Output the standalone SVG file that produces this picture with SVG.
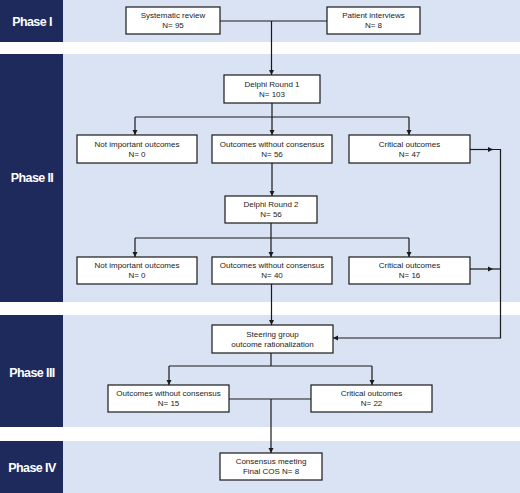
<svg xmlns="http://www.w3.org/2000/svg" width="520" height="493" viewBox="0 0 520 493">
<style>
.band{fill:#DAE3F3}
.side{fill:#1F2A5C}
.ph{font-family:"Liberation Sans",Arial,sans-serif;font-weight:bold;font-size:12.5px;fill:#fff;text-anchor:middle;letter-spacing:-0.6px}
.box{fill:#fff;stroke:#1a1a1a;stroke-width:1.2}
.t{font-family:"Liberation Sans",Arial,sans-serif;font-size:8px;fill:#222;text-anchor:middle}
.c{fill:none;stroke:#1a1a1a;stroke-width:1.2}
</style>
<defs>
<marker id="ah" markerUnits="userSpaceOnUse" markerWidth="6" markerHeight="6" refX="5" refY="3" orient="auto">
<path d="M0,0.5 L5,3 L0,5.5 z" fill="#1a1a1a"/>
</marker>
</defs>
<g id="bands">
<rect class="band" x="63" y="0" width="457" height="42"/>
<rect class="side" x="0" y="0" width="63" height="42"/>
<rect class="band" x="63" y="54" width="457" height="248"/>
<rect class="side" x="0" y="54" width="63" height="248"/>
<rect class="band" x="63" y="315" width="457" height="112"/>
<rect class="side" x="0" y="315" width="63" height="112"/>
<rect class="band" x="63" y="441" width="457" height="52"/>
<rect class="side" x="0" y="441" width="63" height="52"/>
<text class="ph" x="32" y="25.5">Phase I</text>
<text class="ph" x="32" y="181.5">Phase II</text>
<text class="ph" x="32" y="376.5">Phase III</text>
<text class="ph" x="32" y="471.5">Phase IV</text>
</g>
<g id="connectors">
<path class="c" d="M220,21 H327"/>
<path class="c" d="M271.5,21 V75" marker-end="url(#ah)"/>
<path class="c" d="M272,103 V117"/>
<path class="c" d="M135,117 H409"/>
<path class="c" d="M135,117 V135" marker-end="url(#ah)"/>
<path class="c" d="M272,117 V135" marker-end="url(#ah)"/>
<path class="c" d="M409,117 V135" marker-end="url(#ah)"/>
<path class="c" d="M272,163 V196" marker-end="url(#ah)"/>
<path class="c" d="M271,223 V238"/>
<path class="c" d="M135,238 H409"/>
<path class="c" d="M135,238 V257" marker-end="url(#ah)"/>
<path class="c" d="M271,238 V257" marker-end="url(#ah)"/>
<path class="c" d="M409,238 V257" marker-end="url(#ah)"/>
<path class="c" d="M470,149.5 H493" marker-end="url(#ah)"/>
<path class="c" d="M493,149.5 H500.5 V338 H333" marker-end="url(#ah)"/>
<path class="c" d="M470,269 H493" marker-end="url(#ah)"/>
<path class="c" d="M493,269 H500.5"/>
<path class="c" d="M271.5,284 V325" marker-end="url(#ah)"/>
<path class="c" d="M271,353 V366"/>
<path class="c" d="M169,366 H372"/>
<path class="c" d="M169,366 V385" marker-end="url(#ah)"/>
<path class="c" d="M372,366 V385" marker-end="url(#ah)"/>
<path class="c" d="M229,399 H311"/>
<path class="c" d="M271,399 V453" marker-end="url(#ah)"/>
</g>
<g id="systematic-review">
<rect class="box" x="126" y="7" width="94" height="27"/>
<text class="t" x="173" y="18">Systematic review</text>
<text class="t" x="173" y="28">N= 95</text>
</g>
<g id="patient-interviews">
<rect class="box" x="327" y="7" width="93" height="27"/>
<text class="t" x="373.5" y="18">Patient interviews</text>
<text class="t" x="373.5" y="28">N= 8</text>
</g>
<g id="delphi-1">
<rect class="box" x="224" y="75" width="96" height="28"/>
<text class="t" x="272" y="87">Delphi Round 1</text>
<text class="t" x="272" y="97">N= 103</text>
</g>
<g id="not-important-1">
<rect class="box" x="77" y="135" width="120" height="28"/>
<text class="t" x="137" y="147">Not important  outcomes</text>
<text class="t" x="137" y="157">N= 0</text>
</g>
<g id="no-consensus-1">
<rect class="box" x="212" y="135" width="120" height="28"/>
<text class="t" x="272" y="147">Outcomes without  consensus</text>
<text class="t" x="272" y="157">N= 56</text>
</g>
<g id="critical-1">
<rect class="box" x="349" y="135" width="121" height="28"/>
<text class="t" x="409.5" y="147">Critical outcomes</text>
<text class="t" x="409.5" y="157">N= 47</text>
</g>
<g id="delphi-2">
<rect class="box" x="225" y="196" width="92" height="27"/>
<text class="t" x="271" y="207">Delphi Round 2</text>
<text class="t" x="271" y="217">N= 56</text>
</g>
<g id="not-important-2">
<rect class="box" x="77" y="257" width="120" height="27"/>
<text class="t" x="137" y="268">Not important  outcomes</text>
<text class="t" x="137" y="278">N= 0</text>
</g>
<g id="no-consensus-2">
<rect class="box" x="212" y="257" width="120" height="27"/>
<text class="t" x="272" y="268">Outcomes without  consensus</text>
<text class="t" x="272" y="278">N= 40</text>
</g>
<g id="critical-2">
<rect class="box" x="349" y="257" width="121" height="27"/>
<text class="t" x="409.5" y="268">Critical outcomes</text>
<text class="t" x="409.5" y="278">N= 16</text>
</g>
<g id="steering-group">
<rect class="box" x="212" y="325" width="121" height="28"/>
<text class="t" x="272.5" y="337">Steering group</text>
<text class="t" x="272.5" y="347">outcome  rationalization</text>
</g>
<g id="no-consensus-3">
<rect class="box" x="108" y="385" width="121" height="27"/>
<text class="t" x="168.5" y="396">Outcomes without  consensus</text>
<text class="t" x="168.5" y="406">N= 15</text>
</g>
<g id="critical-3">
<rect class="box" x="311" y="385" width="121" height="27"/>
<text class="t" x="371.5" y="396">Critical outcomes</text>
<text class="t" x="371.5" y="406">N= 22</text>
</g>
<g id="consensus-meeting">
<rect class="box" x="220" y="453" width="102" height="27"/>
<text class="t" x="271" y="464">Consensus meeting</text>
<text class="t" x="271" y="474">Final COS N= 8</text>
</g>
</svg>
